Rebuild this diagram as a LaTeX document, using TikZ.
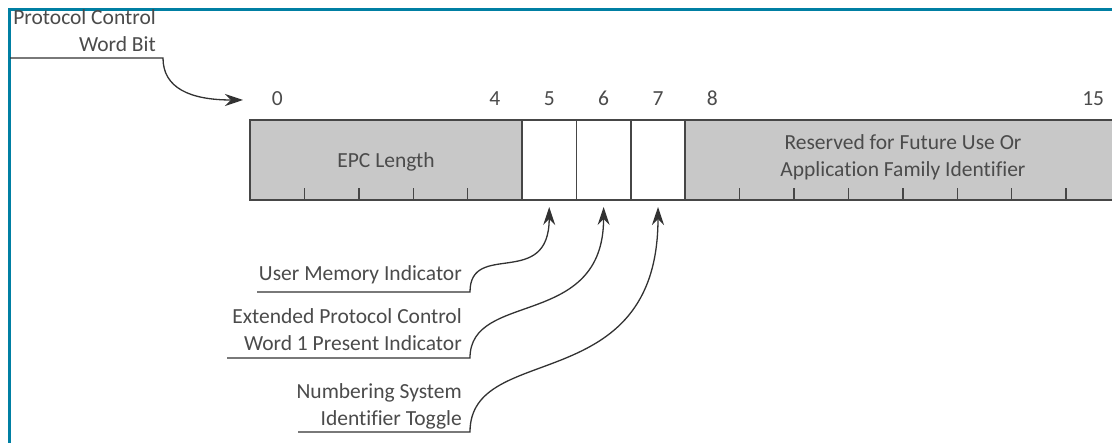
\documentclass[tikz,border=0pt]{standalone}
\usepackage{fontspec}
\setmainfont{Carlito}[Ligatures={NoCommon}]
\usetikzlibrary{arrows.meta,calc}
\definecolor{frameblue}{RGB}{0,127,163}
\definecolor{txt}{RGB}{75,75,75}
\definecolor{cellfill}{RGB}{200,200,200}
\definecolor{edge}{RGB}{70,70,70}
\definecolor{connc}{RGB}{50,50,50}
\begin{document}
\begin{tikzpicture}[x=1pt,y=-1pt,
  font=\fontsize{21.5}{27}\selectfont, text=txt,
  cell/.style={draw=edge, line width=1.6pt, minimum height=80pt, inner sep=0pt, outer sep=0pt, anchor=north west},
  graycell/.style={cell, fill=cellfill},
  whitecell/.style={cell, fill=white, minimum width=54.4pt},
  bitnum/.style={anchor=base, inner sep=0pt},
  lbl/.style={align=right, anchor=base east, inner sep=0pt},
  conn/.style={draw=connc, line width=1.3pt, -{Stealth[length=18pt,width=12pt,inset=6pt]}},
  tickmark/.style={draw=edge, line width=1.4pt}]
\useasboundingbox (0,0) rectangle (1112,443);
\clip (0,0) rectangle (1112,443);
\fill[white] (0,0) rectangle (1112,443);
% frame
\draw[frameblue, line width=3pt] (9.5,443) -- (9.5,9.5) -- (1112,9.5);
% register cells
\node[graycell, minimum width=272pt] (epc) at (250,120) {};
\node[whitecell] (b5) at (522,120) {};
\node[whitecell] (b6) at (576.4,120) {};
\node[whitecell] (b7) at (630.8,120) {};
\node[graycell, minimum width=435.2pt] (rsv) at (685.2,120) {};
% ticks
\foreach \i in {1,...,4} \draw[tickmark] (250+\i*54.4,200) -- ++(0,-12);
\foreach \i in {9,...,15} \draw[tickmark] (250+\i*54.4,200) -- ++(0,-12);
% field texts
\node[anchor=base, inner sep=0pt] (epclbl) at (386,168) {EPC Length};
\node[align=center, anchor=base, inner sep=0pt] (rsvlbl) at (903,177) {Reserved for Future Use Or\\Application Family Identifier};
% bit numbers
\foreach \i/\nm in {0/n0,4/n4,5/n5,6/n6,7/n7,8/n8,15/n15}
  \node[bitnum] (\nm) at (250+\i*54.4+27.2,106) {\i};
% protocol control word bit label
\node[lbl] (pcw) at (156,52) {Protocol Control\\Word Bit};
\coordinate (pcwL) at (10,58);
\coordinate (pcwR) at (163,58);
\coordinate (pcwT) at (243,100);
\draw[conn] (pcwL) -- (pcwR) .. controls +(0,30) and +(-53,0) .. (pcwT);
% user memory indicator
\node[lbl] (umi) at (462,281) {User Memory Indicator};
\coordinate (umiL) at (257,292);
\coordinate (umiR) at (470,292);
\draw[conn, shorten >=7pt] (umiL) -- (umiR) .. controls +(0,-52) and +(0,90) .. (b5.south);
% extended protocol control word
\node[lbl] (xpc) at (462,351) {Extended Protocol Control\\Word 1 Present Indicator};
\coordinate (xpcL) at (227,358);
\coordinate (xpcR) at (470,358);
\draw[conn, shorten >=7pt] (xpcL) -- (xpcR) .. controls +(0,-68) and +(0,130) .. (b6.south);
% numbering system identifier toggle
\node[lbl] (nsi) at (462,426) {Numbering System\\Identifier Toggle};
\coordinate (nsiL) at (298,432);
\coordinate (nsiR) at (470,432);
\draw[conn, shorten >=7pt] (nsiL) -- (nsiR) .. controls +(0,-92) and +(0,200) .. (b7.south);
\end{tikzpicture}
\end{document}
